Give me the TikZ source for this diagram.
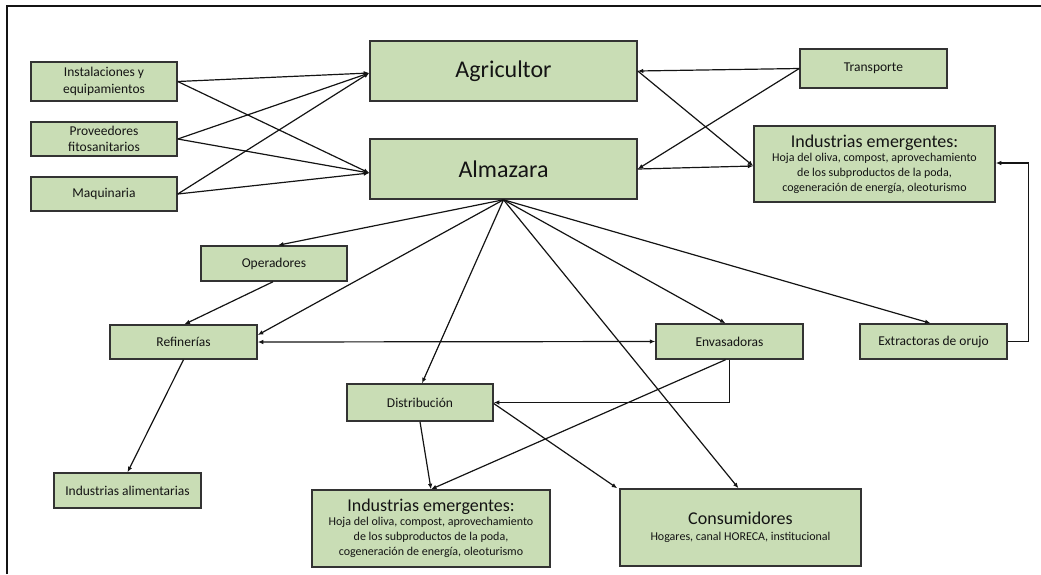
\documentclass[tikz,border=0pt]{standalone}
\usepackage{fontspec}
\setmainfont{Carlito}
\usetikzlibrary{arrows.meta,calc}
\definecolor{boxfill}{HTML}{C9DDB5}
\definecolor{boxdraw}{HTML}{333333}
\definecolor{txt}{HTML}{141414}
\begin{document}
\begin{tikzpicture}[x=1pt,y=-1pt,
  box/.style={draw=boxdraw, line width=1.5pt, fill=boxfill, inner sep=0pt, align=center,
              font=\fontsize{13.5}{16.5}\selectfont, text=txt},
  big/.style={box, font=\fontsize{24}{28}\selectfont},
  wide/.style={box, font=\fontsize{12}{15}\selectfont},
  arr/.style={line width=1.2pt, draw=txt, -{Latex[length=5.5pt,width=4.5pt]}},
  darr/.style={line width=1.2pt, draw=txt, {Latex[length=5.5pt,width=4.5pt]}-{Latex[length=5.5pt,width=4.5pt]}},
  ln/.style={line width=1.2pt, draw=txt}]
\useasboundingbox (0,0) rectangle (1041,574);
\draw[line width=1.8pt, draw=txt] (7,574) -- (7,6) -- (1041,6);

% nodes
\node[box, minimum width=146pt, minimum height=39pt] (inst) at (104,81.5) {Instalaciones y\\equipamientos};
\node[box, minimum width=146pt, minimum height=34pt] (prov) at (104,139) {Proveedores\\fitosanitarios};
\node[box, minimum width=146pt, minimum height=34pt] (maq) at (104,194) {Maquinaria};
\node[big, minimum width=267pt, minimum height=60pt] (agri) at (503.5,71) {Agricultor};
\node[big, minimum width=267pt, minimum height=60pt] (alma) at (503.5,169) {Almazara};
\node[box, minimum width=147pt, minimum height=39pt] (trans) at (873.5,68.5) {Transporte};
\node[wide, minimum width=241pt, minimum height=76pt] (ieA) at (874.5,164)
  {{\fontsize{18}{20}\selectfont Industrias emergentes:}\\[-1pt]
   Hoja del oliva, compost, aprovechamiento\\de los subproductos de la poda,\\cogeneración de energía, oleoturismo};
\node[box, minimum width=146pt, minimum height=35pt] (oper) at (274,263.5) {Operadores};
\node[box, minimum width=147pt, minimum height=34pt] (ref) at (183.5,342) {Refinerías};
\node[box, minimum width=147pt, minimum height=35pt] (env) at (729.5,341.5) {Envasadoras};
\node[box, minimum width=147pt, minimum height=35pt] (ext) at (933.5,341.5) {Extractoras de orujo};
\node[box, minimum width=146pt, minimum height=37pt] (dist) at (420,402.5) {Distribución};
\node[box, minimum width=147pt, minimum height=35pt] (ialim) at (127.5,490.5) {Industrias alimentarias};
\node[wide, minimum width=238pt, minimum height=77pt] (ieB) at (431,528.5)
  {{\fontsize{18}{20}\selectfont Industrias emergentes:}\\[-1pt]
   Hoja del oliva, compost, aprovechamiento\\de los subproductos de la poda,\\cogeneración de energía, oleoturismo};
\node[wide, minimum width=241pt, minimum height=77pt] (cons) at (740.5,527.5)
  {{\fontsize{18}{22}\selectfont Consumidores}\\[1pt]
   Hogares, canal HORECA, institucional};

% left suppliers
\draw[arr] (inst.east) -- ([yshift=-2pt]agri.west);
\draw[arr] (inst.east) -- ([yshift=-4pt]alma.west);
\draw[arr] (prov.east) -- ([yshift=-2pt]agri.west);
\draw[arr] (prov.east) -- ([yshift=-4pt]alma.west);
\draw[arr] (maq.east) -- ([yshift=-2pt]agri.west);
\draw[arr] (maq.east) -- ([yshift=-4pt]alma.west);

% transporte and industrias emergentes
\draw[arr] (trans.west) -- (agri.east);
\draw[arr] (trans.west) -- (alma.east);
\draw[arr] (agri.east) -- ([yshift=-2pt]ieA.west);
\draw[arr] (alma.east) -- ([yshift=-2pt]ieA.west);

% fan from almazara
\coordinate (fan) at (alma.south);
\draw[arr] (fan) -- ([xshift=4pt]oper.north);
\draw[arr] (fan) -- ([yshift=7pt]ref.east);
\draw[arr] (fan) -- ([xshift=2pt]dist.north);
\draw[arr] (fan) -- ([xshift=-2pt]cons.north);
\draw[arr] (fan) -- ([xshift=-4pt]env.north);
\draw[arr] (fan) -- ([xshift=-3pt]ext.north);

% others
\draw[arr] ([xshift=-1pt]oper.south) -- ([xshift=1pt]ref.north);
\draw[darr] (ref.east) -- (env.west);
\draw[arr] (ref.south) -- (ialim.north);
\draw[arr] (env.south) -- (env.south |- dist.east) -- (dist.east);
\draw[arr] ([xshift=-4pt]env.south) -- (ieB.north);
\draw[arr] (dist.south) -- (ieB.north);
\draw[arr] ([yshift=-1pt]dist.east) -- ([xshift=-2pt]cons.north west);
\draw[arr] (ext.east) -- ++(21,0) |- ([yshift=1pt]ieA.east);
\end{tikzpicture}
\end{document}
